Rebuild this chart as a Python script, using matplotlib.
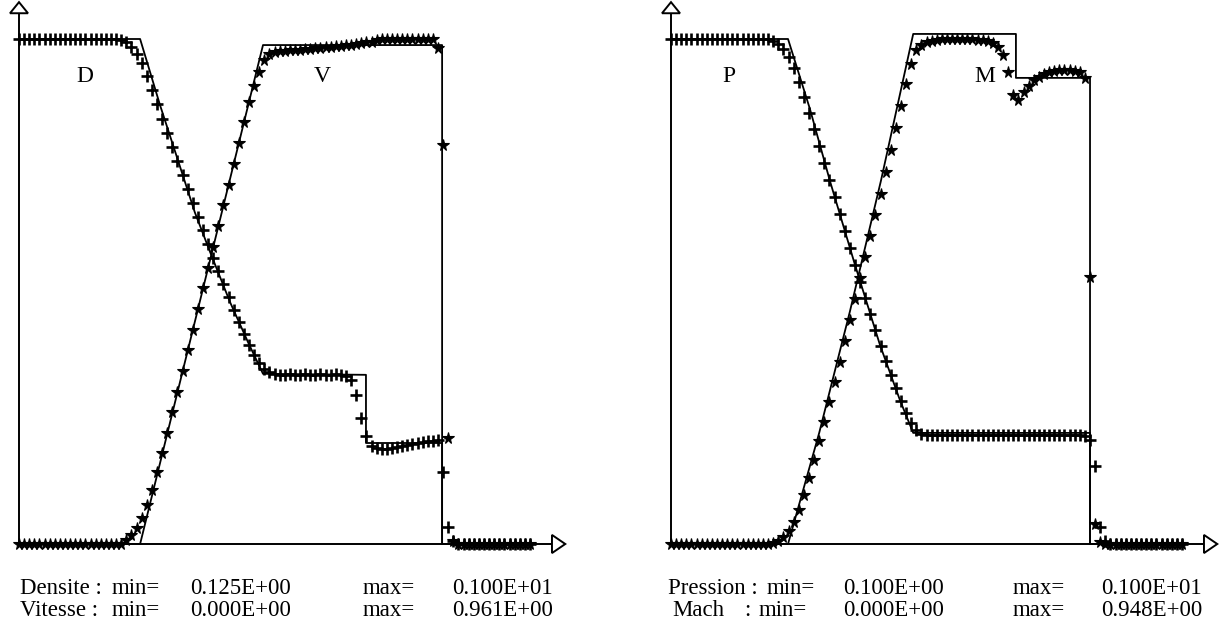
import numpy as np
import matplotlib
matplotlib.use("Agg")
import matplotlib.pyplot as plt
from matplotlib.patches import Polygon

# ---------------- data (values scaled between each variable's min and max) -------------
n_cells = 101
x_cells = np.linspace(0.0, 1.0, n_cells)

densite = ([1.0] * 20 +
           [0.998, 0.994, 0.984, 0.970, 0.952, 0.927, 0.899, 0.871, 0.842, 0.814,
            0.786, 0.758, 0.731, 0.703, 0.675, 0.648, 0.622, 0.594, 0.566, 0.541,
            0.515, 0.489, 0.463, 0.440, 0.416, 0.394, 0.374, 0.358, 0.347, 0.341] +
           [0.337, 0.335, 0.335, 0.337, 0.335, 0.335, 0.337, 0.335, 0.335, 0.337,
            0.335, 0.335, 0.337, 0.335] +
           [0.333, 0.325, 0.295, 0.250, 0.214, 0.194] +
           [0.190, 0.188, 0.188, 0.190, 0.192, 0.194, 0.196, 0.198, 0.200, 0.202,
            0.204, 0.204] +
           [0.206, 0.143, 0.034, 0.006] + [0.0] * 15)

vitesse = ([0.0] * 21 +
           [0.008, 0.018, 0.032, 0.051, 0.077, 0.107, 0.143, 0.180, 0.220, 0.261,
            0.301, 0.343, 0.384, 0.424, 0.465, 0.507, 0.547, 0.588, 0.630, 0.671,
            0.711, 0.752, 0.794, 0.836, 0.875] +
           [0.907, 0.935, 0.958, 0.970, 0.974, 0.976, 0.976, 0.978, 0.978, 0.978,
            0.980, 0.980, 0.982, 0.982, 0.984, 0.984, 0.986, 0.986, 0.988, 0.988,
            0.990, 0.992, 0.994, 0.994, 0.998] +
           [1.0] * 10 +
           [1.0, 0.982, 0.790, 0.210, 0.006] + [0.0] * 15)

pression = ([1.0] * 20 +
            [0.996, 0.990, 0.980, 0.964, 0.943, 0.915, 0.885, 0.853, 0.822, 0.788,
             0.754, 0.721, 0.687, 0.653, 0.620, 0.586, 0.552, 0.519, 0.487, 0.455,
             0.424, 0.392, 0.362, 0.335, 0.309, 0.283, 0.259, 0.240, 0.226, 0.218] +
            [0.216] * 31 +
            [0.214, 0.206, 0.154, 0.034, 0.006] + [0.0] * 15)

mach = ([0.0] * 20 +
        [0.002, 0.006, 0.014, 0.026, 0.044, 0.067, 0.097, 0.131, 0.166, 0.204,
         0.242, 0.281, 0.321, 0.360, 0.402, 0.444, 0.485, 0.527, 0.568, 0.610,
         0.651, 0.693, 0.737, 0.780, 0.824, 0.867, 0.911, 0.950, 0.978, 0.988,
         0.994, 0.996, 0.998] +
        [1.0] * 7 +
        [0.998, 0.998, 0.996, 0.992, 0.984, 0.968, 0.935, 0.889, 0.879, 0.895,
         0.907, 0.919, 0.925, 0.931, 0.935, 0.937, 0.939, 0.939, 0.939, 0.937,
         0.935, 0.923, 0.529, 0.040, 0.004] +
        [0.0] * 16)

# exact solutions (scaled)
ex_dens_x = [0.0, 0.237, 0.276, 0.311, 0.344, 0.374, 0.413, 0.448, 0.4775, 0.679, 0.679, 0.828, 0.828, 1.0]
ex_dens_y = [1.0, 1.0, 0.869, 0.760, 0.657, 0.578, 0.479, 0.400, 0.337, 0.335, 0.200, 0.200, 0.0, 0.0]
ex_vit_x = [0.0, 0.237, 0.4775, 0.828, 0.828, 1.0]
ex_vit_y = [0.0, 0.0, 0.988, 0.988, 0.0, 0.0]
ex_pres_x = [0.0, 0.229, 0.272, 0.311, 0.360, 0.409, 0.448, 0.474, 0.820, 0.820, 1.0]
ex_pres_y = [1.0, 1.0, 0.861, 0.719, 0.553, 0.394, 0.285, 0.220, 0.220, 0.0, 0.0]
ex_mach_x = [0.0, 0.229, 0.290, 0.350, 0.411, 0.474, 0.675, 0.675, 0.820, 0.820, 1.0]
ex_mach_y = [0.0, 0.0, 0.22, 0.46, 0.72, 1.01, 1.01, 0.923, 0.923, 0.0, 0.0]

left_labels = ["D", "V"]
right_labels = ["P", "M"]
left_text = [["Densite :", "min=", "0.125E+00", "max=", "0.100E+01"],
             ["Vitesse :", "min=", "0.000E+00", "max=", "0.961E+00"]]
right_text = [["Pression :", "min=", "0.100E+00", "max=", "0.100E+01"],
              ["Mach", ":", "min=", "0.000E+00", "max=", "0.948E+00"]]

# ---------------- figure ----------------
W, H = 1222, 629
fig = plt.figure(figsize=(W / 100, H / 100), dpi=100)
serif = ["Liberation Serif", "DejaVu Serif"]


def make_ax(px_left):
    # plotting frame: x 0..1 -> 511 px, y 0..1 -> 505 px, baseline at 544 px
    ax = fig.add_axes([px_left / W, (H - 544) / H, 511 / W, 505 / H])
    ax.set_xlim(0, 1)
    ax.set_ylim(0, 1)
    ax.axis("off")
    return ax


def draw_axes(ax):
    kw = dict(color="black", lw=1.4, clip_on=False, solid_capstyle="butt")
    ax.plot([0, 0], [0, 1.051], **kw)
    ax.plot([0, 1.043], [0, 0], **kw)
    ax.add_patch(Polygon([[-0.0176, 1.051], [0.0176, 1.051], [0.0, 1.073]], closed=True,
                         fc="white", ec="black", lw=1.4, clip_on=False))
    ax.add_patch(Polygon([[1.043, -0.018], [1.043, 0.018], [1.069, 0.0]], closed=True,
                         fc="white", ec="black", lw=1.4, clip_on=False))


def draw_series(ax, ex1x, ex1y, ex2x, ex2y, s_plus, s_star):
    ax.plot(ex1x, ex1y, color="black", lw=1.3, clip_on=False)
    ax.plot(ex2x, ex2y, color="black", lw=1.3, clip_on=False)
    ax.plot(x_cells, s_plus, ls="none", marker="+", ms=8.5, mew=1.9, color="black", clip_on=False)
    ax.plot(x_cells, s_star, ls="none", marker="*", ms=8.5, mew=0.8, color="black", clip_on=False)


axL = make_ax(19)
draw_axes(axL)
draw_series(axL, ex_dens_x, ex_dens_y, ex_vit_x, ex_vit_y, densite, vitesse)
axR = make_ax(671)
draw_axes(axR)
draw_series(axR, ex_pres_x, ex_pres_y, ex_mach_x, ex_mach_y, pression, mach)

# curve labels
for ax, labs, xs in [(axL, left_labels, [0.129, 0.593]), (axR, right_labels, [0.114, 0.615])]:
    for lab, xx in zip(labs, xs):
        ax.text(xx, (544 - 76) / 505, lab, fontsize=17, family=serif, ha="center", va="center")

# bottom texts (left edges in pixels)
cols_L = [[20, 112, 190, 363, 452], [20, 112, 190, 363, 452]]
cols_R = [[668, 767, 843, 1013, 1101], [672, 744, 759, 843, 1013, 1101]]
row_py = [588, 611]
for rows, cols in [(left_text, cols_L), (right_text, cols_R)]:
    for r, row in enumerate(rows):
        for c, txt in enumerate(row):
            fig.text(cols[r][c] / W, 1 - row_py[r] / H, txt, fontsize=16.5, family=serif,
                     ha="left", va="center")

fig.savefig("out.png", dpi=100)
